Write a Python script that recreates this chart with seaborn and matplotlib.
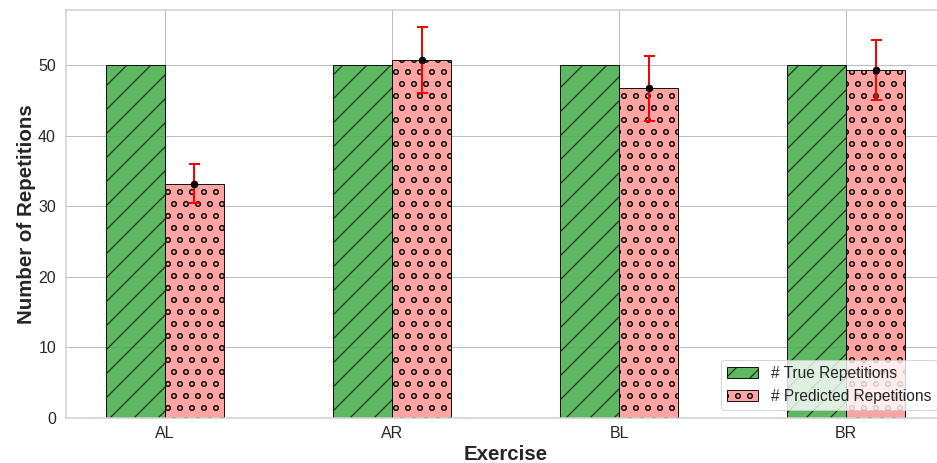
import numpy as np
import pandas as pd
import matplotlib
matplotlib.use("Agg")
import matplotlib.pyplot as plt
import seaborn as sns

# Per-exercise repetition counts
exercises = ["AL", "AR", "BL", "BR"]
true_reps = [50, 50, 50, 50]
pred_reps = [33.2, 50.7, 46.7, 49.3]
pred_err = [2.8, 4.7, 4.65, 4.2]
series = ["# True Repetitions", "# Predicted Repetitions"]
yticks = [0, 10, 20, 30, 40, 50]

sns.set_theme(style="whitegrid")
plt.rcParams["font.family"] = ["Liberation Sans", "DejaVu Sans"]
plt.rcParams["hatch.linewidth"] = 1.0

df = pd.DataFrame({
    "Exercise": exercises * 2,
    "Series": [series[0]] * len(exercises) + [series[1]] * len(exercises),
    "Reps": true_reps + pred_reps,
})

dpi = 72
fig = plt.figure(figsize=(937 / dpi, 463 / dpi), dpi=dpi)
ax = fig.add_axes([66 / 937, 45 / 463, (945 - 66) / 937, (418 - 10) / 463])

palette = {series[0]: "#4CAF50", series[1]: "#FF9999"}
sns.barplot(data=df, x="Exercise", y="Reps", hue="Series", order=exercises,
            hue_order=series, palette=palette, width=0.52, errorbar=None,
            saturation=1, alpha=0.9, edgecolor="black", linewidth=1.0,
            legend=False, ax=ax)

hatches = ["/", "o"]
for cont, h in zip(ax.containers, hatches):
    for bar in cont:
        bar.set_hatch(h)
        bar.set_edgecolor((0, 0, 0, 0.85))

# error bars with mean markers on the predicted bars
pred_bars = ax.containers[1]
xs = [b.get_x() + b.get_width() / 2 for b in pred_bars]
ax.errorbar(xs, pred_reps, yerr=pred_err, fmt="none", ecolor="red",
            elinewidth=2, capsize=5.5, capthick=2, zorder=4)
ax.plot(xs, pred_reps, "o", color="black", markersize=6.5, zorder=5)

ax.set_xlim(-0.436, 3.436)
ax.set_ylim(0, 57.8)
ax.set_yticks(yticks)
ax.tick_params(axis="both", labelsize=16, colors="#262626")
ax.tick_params(axis="x", pad=2)
ax.tick_params(axis="y", pad=4)
ax.set_xlabel("Exercise", fontsize=20.5, fontweight="bold", labelpad=4)
ax.set_ylabel("Number of Repetitions", fontsize=20.5, fontweight="bold", labelpad=2)
for s in ax.spines.values():
    s.set_color("#d0d0d0")
    s.set_linewidth(1.5)
ax.grid(True, color="#bdbdbd", linewidth=1.0)
ax.set_axisbelow(True)

ax.legend([ax.containers[0], ax.containers[1]], series, loc="lower right",
          fontsize=15.5, framealpha=0.8, borderaxespad=0.5)

fig.savefig("out.png", dpi=dpi)
